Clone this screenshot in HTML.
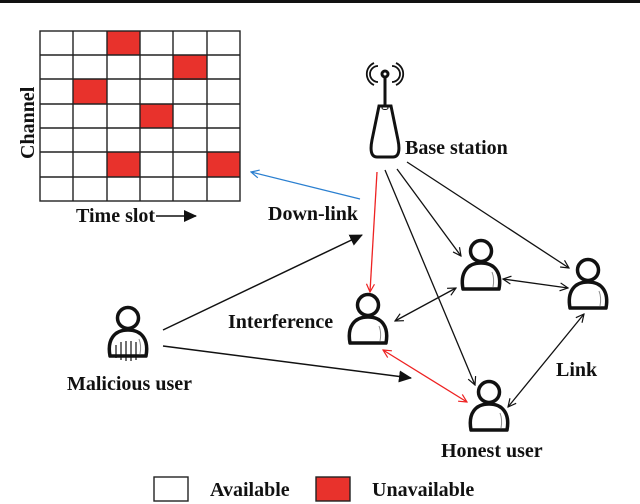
<!DOCTYPE html>
<html><head><meta charset="utf-8"><style>
body{margin:0;background:#fff}
svg{display:block}
text{font-family:"Liberation Serif",serif;font-weight:bold;fill:#111}
</style></head><body>
<svg width="640" height="504" viewBox="0 0 640 504" xmlns="http://www.w3.org/2000/svg">
<defs>
<marker id="ab" markerWidth="10" markerHeight="10" refX="9" refY="5" orient="auto-start-reverse" markerUnits="userSpaceOnUse"><path d="M1,1 L9,5 L1,9" fill="none" stroke="#111" stroke-width="1.2"/></marker>
<marker id="ar" markerWidth="10" markerHeight="10" refX="9" refY="5" orient="auto-start-reverse" markerUnits="userSpaceOnUse"><path d="M1,1 L9,5 L1,9" fill="none" stroke="#e22" stroke-width="1.2"/></marker>
<marker id="abl" markerWidth="10" markerHeight="10" refX="9" refY="5" orient="auto" markerUnits="userSpaceOnUse"><path d="M1,1 L9,5 L1,9" fill="none" stroke="#2a7fd0" stroke-width="1.2"/></marker>
<marker id="af" markerWidth="14" markerHeight="12" refX="12" refY="6" orient="auto" markerUnits="userSpaceOnUse"><path d="M0,0 L13,6 L0,12 Z" fill="#111"/></marker>
<g id="p">
<circle cx="0" cy="-15" r="10.5" fill="#fff" stroke="#111" stroke-width="3.5"/>
<path d="M-18,23 C-21,7 -14,-3 0,-3 C14,-3 21,7 18,23 Z" fill="#fff" stroke="#111" stroke-width="3.5" stroke-linejoin="round"/>
<path d="M11,6 C13,11 13,16 12,21" fill="none" stroke="#888" stroke-width="1"/>
</g>
</defs>
<rect x="0" y="0" width="640" height="3" fill="#111"/>
<g>
<rect x="107" y="31" width="33" height="24" fill="#e8322c"/>
<rect x="173" y="55" width="34" height="25" fill="#e8322c"/>
<rect x="73" y="79" width="34" height="25" fill="#e8322c"/>
<rect x="140" y="104" width="33" height="24" fill="#e8322c"/>
<rect x="107" y="152" width="33" height="25" fill="#e8322c"/>
<rect x="207" y="152" width="33" height="25" fill="#e8322c"/>
<g stroke="#222" stroke-width="1.4" fill="none">
<rect x="40" y="31" width="200" height="170"/>
<path d="M73,31V201M107,31V201M140,31V201M173,31V201M207,31V201"/>
<path d="M40,55H240M40,79H240M40,104H240M40,128H240M40,152H240M40,177H240"/>
</g>
</g>
<text x="0" y="0" font-size="20" transform="translate(34,159) rotate(-90)">Channel</text>
<text x="76" y="222" font-size="20">Time slot</text>
<line x1="156" y1="216" x2="196" y2="216" stroke="#111" stroke-width="1.5" marker-end="url(#af)"/>
<g stroke="#111" stroke-width="3" fill="#fff">
<path d="M377,157 C371,157 370,150 372,140 L379,106 L391,106 L398,140 C400,150 399,157 393,157 Z"/>
<line x1="385" y1="75" x2="385" y2="106"/>
<circle cx="385" cy="74" r="3"/>
</g>
<path d="M378,66 A8,8 0 0 0 378,82 M374,63 A12,12 0 0 0 374,85 M392,66 A8,8 0 0 1 392,82 M396,63 A12,12 0 0 1 396,85" fill="none" stroke="#111" stroke-width="1.8"/>
<ellipse cx="385" cy="108" rx="3" ry="1.5" fill="none" stroke="#111" stroke-width="1"/>
<text x="405" y="154" font-size="20">Base station</text>
<g fill="none" stroke-width="1.3">
<line x1="377" y1="172" x2="370" y2="292" stroke="#e22" marker-end="url(#ar)"/>
<line x1="385" y1="170" x2="475" y2="385" stroke="#111" marker-end="url(#ab)"/>
<line x1="397" y1="169" x2="461" y2="256" stroke="#111" marker-end="url(#ab)"/>
<line x1="407" y1="162" x2="569" y2="268" stroke="#111" marker-end="url(#ab)"/>
<line x1="395" y1="321" x2="456" y2="288" stroke="#111" marker-start="url(#ab)" marker-end="url(#ab)"/>
<line x1="503" y1="279" x2="568" y2="288" stroke="#111" marker-start="url(#ab)" marker-end="url(#ab)"/>
<line x1="508" y1="407" x2="584" y2="314" stroke="#111" marker-start="url(#ab)" marker-end="url(#ab)"/>
<line x1="383" y1="350" x2="467" y2="402" stroke="#e22" marker-start="url(#ar)" marker-end="url(#ar)"/>
<line x1="360" y1="199" x2="251" y2="172" stroke="#2a7fd0" marker-end="url(#abl)"/>
<line x1="163" y1="330" x2="362" y2="235" stroke="#111" stroke-width="1.5" marker-end="url(#af)"/>
<line x1="163" y1="346" x2="411" y2="378" stroke="#111" stroke-width="1.5" marker-end="url(#af)"/>
</g>
<use href="#p" x="481" y="266"/>
<use href="#p" x="588" y="285"/>
<use href="#p" x="368" y="320"/>
<use href="#p" x="489" y="407"/>
<g>
<use href="#p" x="128" y="333"/>
<path d="M121,342V360M126,341V361M131,341V361M136,342V360M116,345V358" stroke="#111" stroke-width="1.2"/>
</g>
<text x="268" y="220" font-size="20">Down-link</text>
<text x="228" y="328" font-size="20">Interference</text>
<text x="67" y="390" font-size="20">Malicious user</text>
<text x="556" y="376" font-size="20">Link</text>
<text x="441" y="457" font-size="20">Honest user</text>
<rect x="154" y="477" width="34" height="24" fill="#fff" stroke="#222" stroke-width="1.4"/>
<text x="210" y="496" font-size="20">Available</text>
<rect x="316" y="477" width="34" height="24" fill="#e8322c" stroke="#222" stroke-width="1.4"/>
<text x="372" y="496" font-size="20">Unavailable</text>
</svg>
</body></html>
